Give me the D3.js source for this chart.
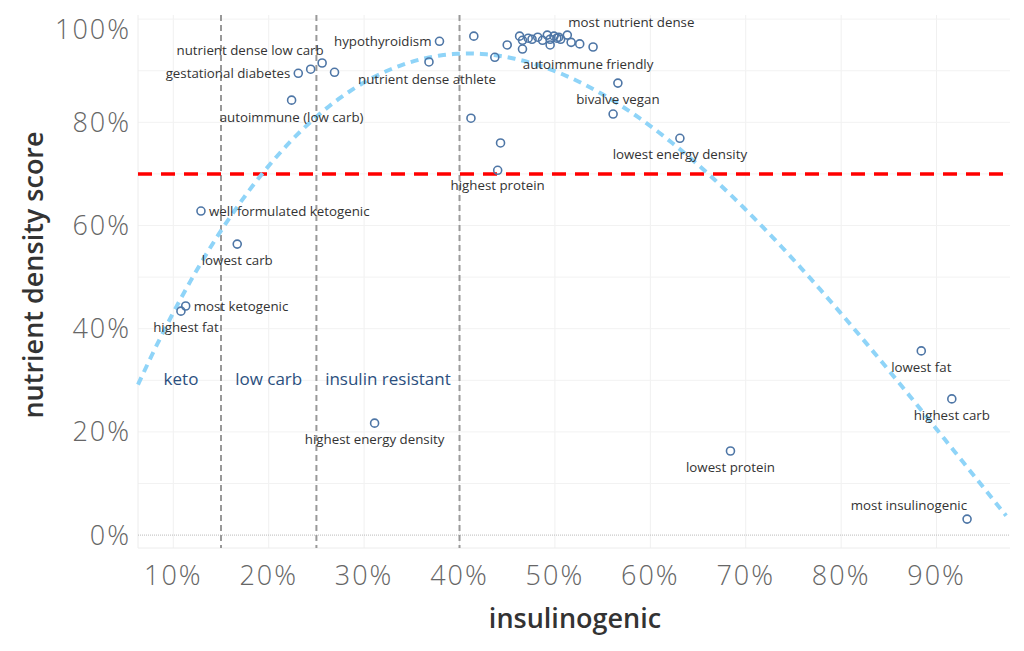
<!DOCTYPE html>
<html>
<head>
<meta charset="utf-8">
<script src="https://cdn.jsdelivr.net/npm/d3@7"></script>
<style>
  body { margin: 0; background: #fff; }
  text { font-family: "Open Sans", sans-serif; }
</style>
</head>
<body>
<div class="canvas"></div>
<script>
// data
const names = [
  "highest fat", "most ketogenic", "well formulated ketogenic", "lowest carb",
  "autoimmune (low carb)", "gestational diabetes", "", "nutrient dense low carb", "",
  "nutrient dense athlete", "hypothyroidism", "highest energy density",
  "", "", "", "highest protein",
  "", "", "", "", "", "", "", "", "", "", "", "", "",
  "most nutrient dense", "", "", "autoimmune friendly",
  "bivalve vegan", "", "lowest energy density", "lowest protein",
  "lowest fat", "highest carb", "most insulinogenic"
];
const insulinogenic = [
  0.108, 0.113, 0.129, 0.167,
  0.224, 0.231, 0.244, 0.256, 0.269,
  0.368, 0.379, 0.311,
  0.415, 0.412, 0.443, 0.440,
  0.437, 0.450, 0.463, 0.466, 0.466, 0.472, 0.476, 0.482, 0.487, 0.492, 0.495, 0.495, 0.499,
  0.513, 0.502, 0.504, 0.540,
  0.566, 0.561, 0.631, 0.684,
  0.884, 0.916, 0.932
];
const nutrientDensity = [
  0.434, 0.444, 0.628, 0.564,
  0.843, 0.895, 0.903, 0.915, 0.897,
  0.917, 0.957, 0.217,
  0.967, 0.808, 0.760, 0.707,
  0.926, 0.950, 0.967, 0.959, 0.942, 0.963, 0.961, 0.965, 0.959, 0.969, 0.961, 0.950, 0.967,
  0.969, 0.963, 0.965, 0.946,
  0.876, 0.816, 0.769, 0.163,
  0.357, 0.264, 0.031
];
// extra points in the cluster with no label
const clusterX = [0.506, 0.517, 0.526];
const clusterY = [0.961, 0.955, 0.952];

const xTicks = [0.1, 0.2, 0.3, 0.4, 0.5, 0.6, 0.7, 0.8, 0.9];
const yTicks = [0, 0.2, 0.4, 0.6, 0.8, 1.0];
const zoneLines = [0.15, 0.25, 0.40];
const zoneNames = ["keto", "low carb", "insulin resistant"];
const target = 0.70;

// label placement: [anchor, dx, dy]
const labelPos = {
  "highest fat": ["middle", 5, 16],
  "most ketogenic": ["start", 8, 0],
  "well formulated ketogenic": ["start", 8, 0],
  "lowest carb": ["middle", 0, 16],
  "autoimmune (low carb)": ["middle", 0, 17],
  "gestational diabetes": ["end", -8, 0],
  "nutrient dense low carb": ["middle", -72, -13],
  "nutrient dense athlete": ["middle", -2, 17],
  "hypothyroidism": ["end", -8, 0],
  "highest energy density": ["middle", 0, 16],
  "highest protein": ["middle", 0, 15],
  "most nutrient dense": ["start", 1, -13],
  "autoimmune friendly": ["middle", -5, 17],
  "bivalve vegan": ["middle", 0, 16],
  "lowest energy density": ["middle", 0, 16],
  "lowest protein": ["middle", 0, 16],
  "lowest fat": ["middle", 0, 16],
  "highest carb": ["middle", 0, 16],
  "most insulinogenic": ["end", 0, -14]
};

const points = insulinogenic.map((x, i) => ({ x: x, y: nutrientDensity[i], name: names[i] }))
  .concat(clusterX.map((x, i) => ({ x: x, y: clusterY[i], name: "" })));

const width = 1024, height = 651;
const plotL = 138, plotR = 1010, plotT = 15, plotB = 548;

const svg = d3.select(".canvas").append("svg").attr("width", width).attr("height", height);

const x = d3.scaleLinear().domain([0.063, 0.977]).range([plotL, plotR]);
const y = d3.scaleLinear().domain([-0.025, 1.008]).range([plotB, plotT]);

// grid
svg.append("g").selectAll("line").data(xTicks).enter().append("line")
  .attr("x1", d => x(d)).attr("x2", d => x(d))
  .attr("y1", plotT).attr("y2", plotB)
  .attr("stroke", "#f0f0f0");
svg.append("g").selectAll("line").data(d3.range(1, 11).map(d => d / 10)).enter().append("line")
  .attr("x1", plotL).attr("x2", plotR)
  .attr("y1", d => y(d)).attr("y2", d => y(d))
  .attr("stroke", "#f2f2f2");
svg.append("line").attr("x1", plotL).attr("x2", plotL).attr("y1", plotT).attr("y2", plotB).attr("stroke", "#ececec");
svg.append("line").attr("x1", plotL).attr("x2", plotR).attr("y1", plotB).attr("y2", plotB).attr("stroke", "#ececec");
svg.append("line").attr("x1", plotL).attr("x2", plotR).attr("y1", y(0)).attr("y2", y(0))
  .attr("stroke", "#bbb").attr("stroke-dasharray", "1,1");

// axes
svg.append("g").selectAll("text").data(xTicks).enter().append("text")
  .attr("x", d => x(d)).attr("y", 585)
  .attr("text-anchor", "middle").attr("fill", "#666")
  .style("font-size", "27px").style("font-weight", "300").style("letter-spacing", "2px")
  .text(d => d3.format(".0%")(d));
svg.append("g").selectAll("text").data(yTicks).enter().append("text")
  .attr("x", 131).attr("y", d => Math.max(y(d), 30))
  .attr("dy", "0.35em")
  .attr("text-anchor", "end").attr("fill", "#666")
  .style("font-size", "27px").style("font-weight", "300").style("letter-spacing", "2px")
  .text(d => d3.format(".0%")(d));

svg.append("text").attr("x", 575).attr("y", 628)
  .attr("text-anchor", "middle").attr("fill", "#333")
  .style("font-size", "27px").style("font-weight", "600")
  .text("insulinogenic");
svg.append("text").attr("transform", "translate(43,275) rotate(-90)")
  .attr("text-anchor", "middle").attr("fill", "#333")
  .style("font-size", "27px").style("font-weight", "600")
  .text("nutrient density score");

// zone lines
svg.append("g").selectAll("line").data(zoneLines).enter().append("line")
  .attr("x1", d => x(d)).attr("x2", d => x(d))
  .attr("y1", plotT).attr("y2", plotB)
  .attr("stroke", "#999").attr("stroke-width", 2).attr("stroke-dasharray", "6,4");

// zone names, centred between the lines
const zoneEdges = [x.domain()[0]].concat(zoneLines);
svg.append("g").selectAll("text").data(zoneNames).enter().append("text")
  .attr("x", (d, i) => i == 0 ? 181 : (x(zoneEdges[i]) + x(zoneEdges[i + 1])) / 2)
  .attr("y", 379).attr("dy", "0.35em")
  .attr("text-anchor", "middle").attr("fill", "#2b4f7e")
  .style("font-size", "17px")
  .text(d => d);

// target line
svg.append("line").attr("x1", plotL).attr("x2", plotR)
  .attr("y1", y(target)).attr("y2", y(target))
  .attr("stroke", "#ff0000").attr("stroke-width", 3.5).attr("stroke-dasharray", "14,9");

// cubic trend line fitted to the points (least squares)
function polyfit(xs, ys, deg) {
  const n = deg + 1;
  const A = d3.range(n).map(() => new Array(n + 1).fill(0));
  xs.forEach((xv, k) => {
    for (let i = 0; i < n; i++) {
      for (let j = 0; j < n; j++) A[i][j] += Math.pow(xv, i + j);
      A[i][n] += ys[k] * Math.pow(xv, i);
    }
  });
  for (let i = 0; i < n; i++) {
    let p = i;
    for (let r = i + 1; r < n; r++) if (Math.abs(A[r][i]) > Math.abs(A[p][i])) p = r;
    [A[i], A[p]] = [A[p], A[i]];
    for (let r = 0; r < n; r++) {
      if (r == i) continue;
      const f = A[r][i] / A[i][i];
      for (let c = i; c <= n; c++) A[r][c] -= f * A[i][c];
    }
  }
  return d3.range(n).map(i => A[i][n] / A[i][i]);
}
const coef = polyfit(points.map(d => d.x), points.map(d => d.y), 3);
const trend = d3.range(x.domain()[0], x.domain()[1] + 0.001, 0.005)
  .map(v => [v, coef.reduce((s, c, i) => s + c * Math.pow(v, i), 0)]);

svg.append("path")
  .datum(trend)
  .attr("d", d3.line().x(d => x(d[0])).y(d => y(d[1])))
  .attr("fill", "none").attr("stroke", "#8fd4f8")
  .attr("stroke-width", 4).attr("stroke-dasharray", "8,6");

// points
svg.append("g").selectAll("circle").data(points).enter().append("circle")
  .attr("cx", d => x(d.x)).attr("cy", d => y(d.y)).attr("r", 4)
  .attr("fill", "none").attr("stroke", "#4e76a6").attr("stroke-width", 1.6);

// labels
svg.append("g").selectAll("text").data(points.filter(d => d.name)).enter().append("text")
  .attr("x", d => x(d.x) + labelPos[d.name][1])
  .attr("y", d => y(d.y) + labelPos[d.name][2])
  .attr("dy", "0.35em")
  .attr("text-anchor", d => labelPos[d.name][0])
  .attr("fill", "#333")
  .style("font-size", "13.3px")
  .text(d => d.name);
</script>
</body>
</html>
